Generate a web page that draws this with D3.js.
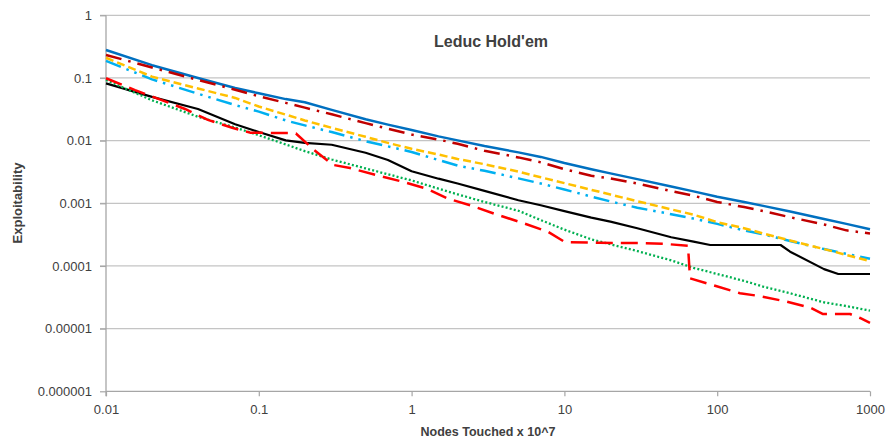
<!DOCTYPE html>
<html>
<head>
<meta charset="utf-8">
<script src="https://cdn.jsdelivr.net/npm/d3@7"></script>
<style>
  html, body { margin: 0; padding: 0; background: #fff; }
  svg { display: block; }
  text { font-family: "Liberation Sans", Arial, sans-serif; fill: #404040; }
</style>
</head>
<body>
<svg id="chart" width="887" height="439"></svg>
<script>
// ---- data ----
const title = "Leduc Hold'em";
const xTitle = "Nodes Touched x 10^7";
const yTitle = "Exploitability";
const xTickValues = [0.01, 0.1, 1, 10, 100, 1000];
const xTickLabels = ["0.01", "0.1", "1", "10", "100", "1000"];
const yTickValues = [1, 0.1, 0.01, 0.001, 0.0001, 0.00001, 0.000001];
const yTickLabels = ["1", "0.1", "0.01", "0.001", "0.0001", "0.00001", "0.000001"];

const xNodes = [0.01,0.02,0.04,0.07,0.1,0.15,0.2,0.3,0.5,0.7,1,1.5,2,3,5,7,10,15,20,30,50,70,100,150,200,300,500,700,1000];

const blueVals = [0.28,0.16,0.10,0.069,0.057,0.046,0.041,0.031,0.022,0.018,0.0148,0.0117,0.0101,0.0082,0.0065,0.0055,0.0044,0.0035,0.0030,0.00243,0.00185,0.00155,0.00127,0.00105,0.00091,0.00074,0.00056,0.00047,0.000385];
const darkRedVals = [0.233,0.147,0.093,0.065,0.051,0.040,0.0336,0.0263,0.019,0.0155,0.0125,0.0104,0.0089,0.0069,0.0054,0.0045,0.0035,0.00275,0.0025,0.00207,0.00157,0.00132,0.00105,0.00087,0.00075,0.0006,0.00046,0.00037,0.00033];
const yellowVals = [0.21,0.105,0.068,0.048,0.035,0.026,0.021,0.016,0.0115,0.0092,0.0074,0.006,0.0051,0.0042,0.0032,0.0026,0.0021,0.00164,0.00138,0.00108,0.0008,0.00066,0.0005,0.0004,0.00033,0.000255,0.000186,0.00015,0.00012];
const lightBlueVals = [0.187,0.095,0.056,0.037,0.029,0.021,0.0175,0.0137,0.0098,0.0081,0.0066,0.0049,0.0040,0.0033,0.0025,0.00207,0.00166,0.00128,0.00107,0.00085,0.00067,0.00057,0.00047,0.00037,0.00032,0.00025,0.000186,0.000156,0.00013];
const greenVals = [0.093,0.044,0.024,0.0162,0.0122,0.0087,0.0068,0.005,0.0036,0.0029,0.00232,0.00171,0.00139,0.00105,0.00076,0.00054,0.00038,0.000266,0.000222,0.000173,0.000123,0.0000933,0.0000745,0.0000578,0.0000468,0.0000366,0.0000263,0.0000229,0.0000194];

const blackX = [0.01,0.02,0.04,0.07,0.1,0.15,0.2,0.3,0.5,0.7,1,1.5,2,3,5,7,10,15,20,30,50,70,90,260,300,500,620,1000];
const blackVals = [0.082,0.05,0.032,0.0183,0.0137,0.0101,0.0092,0.0086,0.0064,0.0049,0.00325,0.00247,0.00207,0.00158,0.00112,0.00093,0.00075,0.00059,0.00051,0.0004,0.000287,0.000244,0.000216,0.000216,0.000169,0.000089,0.0000745,0.0000745];

const redX = [0.01,0.0155,0.0329,0.0465,0.0678,0.0876,0.16,0.175,0.23,0.306,0.395,0.584,0.879,1.26,1.73,2.52,3.62,5.28,7.82,10.1,17.1,31.3,45.5,64.4,66.4,96.8,141,191,286,405,493,740,860,1000];
const redVals = [0.099,0.064,0.032,0.0214,0.0159,0.0134,0.0132,0.013,0.0071,0.0041,0.00366,0.00283,0.0022,0.0017,0.00119,0.0009,0.00066,0.00049,0.00035,0.00024,0.000234,0.000232,0.000225,0.00021,0.0000636,0.0000483,0.0000367,0.000033,0.0000269,0.0000217,0.0000171,0.0000171,0.0000148,0.0000124];

// ---- series table built from arrays ----
const zip = (xs, ys) => xs.map((x, i) => [x, ys[i]]);
const series = [
  { name: "blue",      pts: zip(xNodes, blueVals),      color: "#0070C0", width: 2.5, dash: null },
  { name: "darkred",   pts: zip(xNodes, darkRedVals),   color: "#C00000", width: 2.5, dash: "16,7,2.5,7" },
  { name: "lightblue", pts: zip(xNodes, lightBlueVals), color: "#00B0F0", width: 2.5, dash: "16,6,2.5,6,2.5,6" },
  { name: "yellow",    pts: zip(xNodes, yellowVals),    color: "#FFC000", width: 2.5, dash: "8,4" },
  { name: "black",     pts: zip(blackX, blackVals),     color: "#000000", width: 2.2, dash: null },
  { name: "green",     pts: zip(xNodes, greenVals),     color: "#00B050", width: 2.3, dash: "2,2.2" },
  { name: "red",       pts: zip(redX, redVals),         color: "#FF0000", width: 2.5, dash: "17,8" }
];

// ---- layout ----
const svg = d3.select("#chart");
const x = d3.scaleLog().domain([0.01, 1000]).range([106, 870]);
const y = d3.scaleLog().domain([1e-6, 1]).range([391.3, 15.3]);

// horizontal gridlines (extend left as ticks)
svg.append("g").selectAll("line").data(yTickValues.slice(0, -1)).join("line")
  .attr("x1", 100).attr("x2", 870)
  .attr("y1", d => y(d)).attr("y2", d => y(d))
  .attr("stroke", "#C4C4C4").attr("stroke-width", 1.3);

// x axis
const xAxis = d3.axisBottom(x).tickValues(xTickValues)
  .tickFormat((d, i) => xTickLabels[i]).tickSize(5).tickPadding(8);
const gx = svg.append("g").attr("transform", `translate(0,${y(1e-6)})`).call(xAxis);
gx.select(".domain").attr("stroke", "#A6A6A6").attr("stroke-width", 1.3).attr("d", `M${x(0.01)},0H${x(1000)}`);
gx.selectAll(".tick line").attr("stroke", "#A6A6A6").attr("stroke-width", 1.2);
gx.selectAll(".tick text").attr("font-size", 13).attr("fill", "#404040")
  .attr("font-family", "Liberation Sans, Arial, sans-serif");

// y axis
const yAxis = d3.axisLeft(y).tickValues(yTickValues)
  .tickFormat((d, i) => yTickLabels[i]).tickSize(6).tickPadding(8);
const gy = svg.append("g").attr("transform", `translate(${x(0.01)},0)`).call(yAxis);
gy.select(".domain").attr("stroke", "#A6A6A6").attr("stroke-width", 1.3).attr("d", `M0,${y(1)}V${y(1e-6) + 5}`);
gy.selectAll(".tick line").attr("stroke", "#A6A6A6").attr("stroke-width", 1.2);
gy.selectAll(".tick text").attr("font-size", 13).attr("fill", "#404040")
  .attr("font-family", "Liberation Sans, Arial, sans-serif");

// lines
const line = d3.line().x(d => x(d[0])).y(d => y(d[1])).curve(d3.curveLinear);
svg.append("g").selectAll("path").data(series).join("path")
  .attr("d", d => line(d.pts))
  .attr("fill", "none")
  .attr("stroke", d => d.color)
  .attr("stroke-width", d => d.width)
  .attr("stroke-dasharray", d => d.dash)
  .attr("stroke-linejoin", "round");

// titles
svg.append("text").text(title)
  .attr("x", 491).attr("y", 47).attr("text-anchor", "middle")
  .attr("font-size", 16).attr("font-weight", "bold").attr("fill", "#111");
svg.append("text").text(xTitle)
  .attr("x", 488).attr("y", 436).attr("text-anchor", "middle")
  .attr("font-size", 12.5).attr("font-weight", "bold").attr("fill", "#222");
svg.append("text").text(yTitle)
  .attr("transform", "translate(22,203) rotate(-90)").attr("text-anchor", "middle")
  .attr("font-size", 13).attr("font-weight", "bold").attr("fill", "#222");
</script>
</body>
</html>
